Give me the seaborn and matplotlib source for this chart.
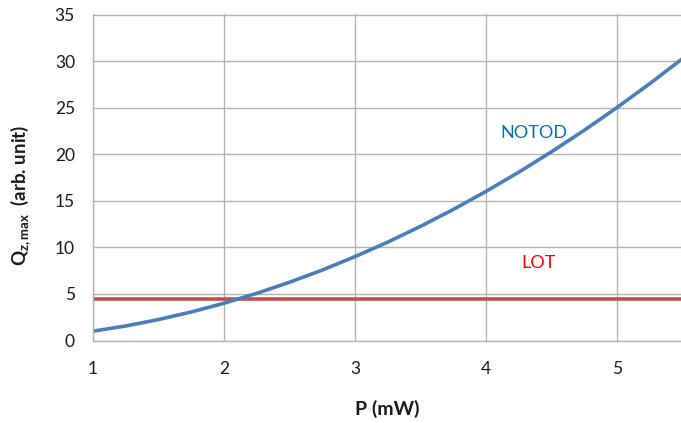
import matplotlib
matplotlib.use("Agg")
import matplotlib.pyplot as plt
import seaborn as sns
import pandas as pd

# Data
power_mw = [1.0, 1.25, 1.5, 1.75, 2.0, 2.25, 2.5, 2.75, 3.0, 3.25,
            3.5, 3.75, 4.0, 4.25, 4.5, 4.75, 5.0, 5.25, 5.5]
notod_q = [1.0, 1.56, 2.25, 3.06, 4.0, 5.06, 6.25, 7.56, 9.0, 10.56,
           12.25, 14.06, 16.0, 18.06, 20.25, 22.56, 25.0, 27.56, 30.25]
lot_q = [4.45] * len(power_mw)
x_ticks = [1, 2, 3, 4, 5]
y_ticks = [0, 5, 10, 15, 20, 25, 30, 35]

sns.set_theme(style="white")
plt.rcParams['font.family'] = ['Lato', 'DejaVu Sans']
plt.rcParams['mathtext.fontset'] = 'custom'
plt.rcParams['mathtext.rm'] = 'Lato'
plt.rcParams['mathtext.bf'] = 'Lato:bold'
plt.rcParams['mathtext.it'] = 'Lato:italic'

df = pd.DataFrame({"P": power_mw, "NOTOD": notod_q, "LOT": lot_q})

fig = plt.figure(figsize=(6.81, 4.23), dpi=100)
ax = fig.add_axes([93/681, 1-340.5/423, (681-93)/681, (340.5-14.5)/423])

grid_c = "#b3b3b3"
ax.set_xlim(1, 5.49)
ax.set_ylim(0, 35)
ax.set_xticks(x_ticks)
ax.set_yticks(y_ticks)
ax.grid(True, color=grid_c, linewidth=1.0)
ax.set_axisbelow(True)

sns.lineplot(data=df, x="P", y="LOT", ax=ax, color="#C0504D", linewidth=2.6)
sns.lineplot(data=df, x="P", y="NOTOD", ax=ax, color="#4A7EBB", linewidth=2.6)

for s in ["top", "right"]:
    ax.spines[s].set_visible(False)
for s in ["left", "bottom"]:
    ax.spines[s].set_color(grid_c)
    ax.spines[s].set_linewidth(1.0)

ax.tick_params(axis="both", which="major", length=5, width=1.0, color=grid_c,
               labelsize=12.5, labelcolor="#1a1a1a", direction="out")
ax.tick_params(axis="x", pad=10)
ax.tick_params(axis="y", pad=8)

ax.set_xlabel("P (mW)", fontsize=14, fontweight="bold", labelpad=16, color="#1a1a1a")
ax.set_ylabel(r"$\mathbf{Q_{z,max}}$  (arb. unit)", fontsize=13.5, fontweight="bold",
              color="#1a1a1a")
ax.yaxis.set_label_coords(-0.102, 0.446)

ax.text(4.11, 22.3, "NOTOD", color="#0070C0", fontsize=13, va="center", ha="left")
ax.text(4.27, 8.3, "LOT", color="#FF0000", fontsize=13, va="center", ha="left")

fig.savefig("out.png", dpi=100)
